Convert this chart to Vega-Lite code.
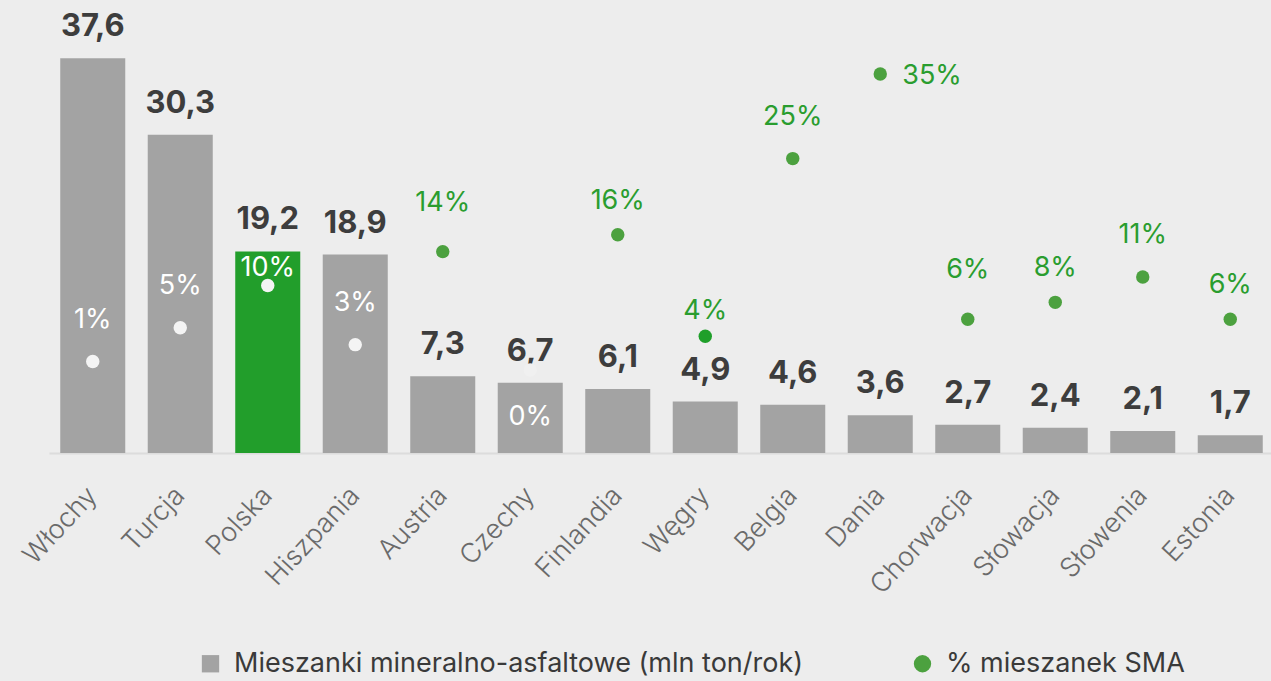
{
  "$schema": "https://vega.github.io/schema/vega-lite/v6.json",
  "width": 1225,
  "height": 453,
  "autosize": {"type": "none"},
  "padding": {"left": 49, "top": 0, "right": 0, "bottom": 228},
  "background": "#ededed",
  "config": {
    "view": {"stroke": null},
    "font": "Inter",
    "locale": {"number": {"decimal": ",", "thousands": " ", "grouping": [3], "currency": ["", " zł"]}}
  },
  "data": {
    "values": [
      {"kraj": "Włochy", "wartosc": 37.6, "pct": 0.01},
      {"kraj": "Turcja", "wartosc": 30.3, "pct": 0.05},
      {"kraj": "Polska", "wartosc": 19.2, "pct": 0.10},
      {"kraj": "Hiszpania", "wartosc": 18.9, "pct": 0.03},
      {"kraj": "Austria", "wartosc": 7.3, "pct": 0.14},
      {"kraj": "Czechy", "wartosc": 6.7, "pct": 0.0},
      {"kraj": "Finlandia", "wartosc": 6.1, "pct": 0.16},
      {"kraj": "Węgry", "wartosc": 4.9, "pct": 0.04},
      {"kraj": "Belgia", "wartosc": 4.6, "pct": 0.25},
      {"kraj": "Dania", "wartosc": 3.6, "pct": 0.35},
      {"kraj": "Chorwacja", "wartosc": 2.7, "pct": 0.06},
      {"kraj": "Słowacja", "wartosc": 2.4, "pct": 0.08},
      {"kraj": "Słowenia", "wartosc": 2.1, "pct": 0.11},
      {"kraj": "Estonia", "wartosc": 1.7, "pct": 0.06}
    ]
  },
  "layer": [
    {
      "encoding": {
        "x": {
          "field": "kraj", "type": "nominal", "sort": null,
          "scale": {"paddingInner": 0.257, "paddingOuter": 0.1285},
          "axis": {
            "title": null, "ticks": false, "labelAngle": -47,
            "labelFont": "Inter", "labelFontWeight": 300, "labelFontSize": 27,
            "labelColor": "#6a6a6a", "labelPadding": 38,
            "domainColor": "#dcdcdc", "domainWidth": 2
          }
        },
        "y": {"field": "wartosc", "type": "quantitative", "scale": {"domain": [0, 43.14], "nice": false, "zero": true}, "axis": null}
      },
      "layer": [
        {
          "mark": {"type": "bar"},
          "encoding": {
            "color": {"condition": {"test": "datum.kraj === 'Polska'", "value": "#229e2b"}, "value": "#a3a3a3"}
          }
        },
        {
          "mark": {"type": "text", "baseline": "alphabetic", "dy": -22, "font": "Inter", "fontWeight": 700, "fontSize": 31, "color": "#3d3d3d"},
          "encoding": {"text": {"field": "wartosc", "type": "quantitative", "format": ".1f"}}
        }
      ]
    },
    {
      "encoding": {
        "x": {"field": "kraj", "type": "nominal", "sort": null},
        "y": {"field": "pct", "type": "quantitative", "scale": {"domain": [-0.0981, 0.4375], "nice": false, "zero": false}, "axis": null}
      },
      "layer": [
        {
          "mark": {"type": "circle", "size": 180, "opacity": 1},
          "encoding": {
            "color": {
              "condition": [
                {"test": "indexof(['Włochy','Turcja','Polska','Hiszpania'], datum.kraj) >= 0", "value": "#f4f4f4"},
                {"test": "datum.kraj === 'Czechy'", "value": "#f0f0f0"},
                {"test": "datum.kraj === 'Węgry'", "value": "#1f9f2a"}
              ],
              "value": "#4ca13f"
            }
          }
        },
        {
          "transform": [{"filter": "indexof(['Włochy','Turcja','Hiszpania'], datum.kraj) >= 0"}],
          "mark": {"type": "text", "baseline": "alphabetic", "dy": -34, "font": "Inter", "fontWeight": 400, "fontSize": 27, "color": "#ffffff"},
          "encoding": {"text": {"field": "pct", "type": "quantitative", "format": ".0%"}}
        },
        {
          "transform": [{"filter": "datum.kraj === 'Polska'"}],
          "mark": {"type": "text", "baseline": "alphabetic", "dy": -9, "font": "Inter", "fontWeight": 400, "fontSize": 27, "color": "#ffffff"},
          "encoding": {"text": {"field": "pct", "type": "quantitative", "format": ".0%"}}
        },
        {
          "transform": [{"filter": "datum.kraj === 'Czechy'"}],
          "mark": {"type": "text", "baseline": "alphabetic", "dy": 55, "font": "Inter", "fontWeight": 400, "fontSize": 27, "color": "#ffffff"},
          "encoding": {"text": {"field": "pct", "type": "quantitative", "format": ".0%"}}
        },
        {
          "transform": [{"filter": "datum.kraj === 'Dania'"}],
          "mark": {"type": "text", "align": "left", "baseline": "middle", "dx": 22, "dy": 2, "font": "Inter", "fontWeight": 400, "fontSize": 27, "color": "#2a9d2f"},
          "encoding": {"text": {"field": "pct", "type": "quantitative", "format": ".0%"}}
        },
        {
          "transform": [{"filter": "datum.kraj === 'Węgry'"}],
          "mark": {"type": "text", "baseline": "alphabetic", "dy": -17, "font": "Inter", "fontWeight": 400, "fontSize": 27, "color": "#2a9d2f"},
          "encoding": {"text": {"field": "pct", "type": "quantitative", "format": ".0%"}}
        },
        {
          "transform": [{"filter": "indexof(['Finlandia','Słowacja','Estonia'], datum.kraj) >= 0"}],
          "mark": {"type": "text", "baseline": "alphabetic", "dy": -26, "font": "Inter", "fontWeight": 400, "fontSize": 27, "color": "#2a9d2f"},
          "encoding": {"text": {"field": "pct", "type": "quantitative", "format": ".0%"}}
        },
        {
          "transform": [{"filter": "indexof(['Belgia','Słowenia'], datum.kraj) >= 0"}],
          "mark": {"type": "text", "baseline": "alphabetic", "dy": -34, "font": "Inter", "fontWeight": 400, "fontSize": 27, "color": "#2a9d2f"},
          "encoding": {"text": {"field": "pct", "type": "quantitative", "format": ".0%"}}
        },
        {
          "transform": [{"filter": "indexof(['Austria','Chorwacja'], datum.kraj) >= 0"}],
          "mark": {"type": "text", "baseline": "alphabetic", "dy": -41, "font": "Inter", "fontWeight": 400, "fontSize": 27, "color": "#2a9d2f"},
          "encoding": {"text": {"field": "pct", "type": "quantitative", "format": ".0%"}}
        }
      ]
    },
    {
      "data": {"values": [{"seria": "Mieszanki mineralno-asfaltowe (mln ton/rok)"}, {"seria": "% mieszanek SMA"}]},
      "mark": {"type": "point", "filled": true, "opacity": 0},
      "encoding": {
        "color": {
          "field": "seria", "type": "nominal",
          "scale": {"domain": ["Mieszanki mineralno-asfaltowe (mln ton/rok)", "% mieszanek SMA"], "range": ["#a3a3a3", "#4ca13f"]},
          "legend": {
            "title": null, "orient": "none", "direction": "horizontal",
            "legendX": 148, "legendY": 650,
            "labelFont": "Inter", "labelFontSize": 27, "labelColor": "#3a3a3a", "labelLimit": 800,
            "symbolSize": 300, "symbolOpacity": 1, "symbolStrokeWidth": 0,
            "columnPadding": 105, "labelOffset": 10
          }
        },
        "shape": {
          "field": "seria", "type": "nominal",
          "scale": {"domain": ["Mieszanki mineralno-asfaltowe (mln ton/rok)", "% mieszanek SMA"], "range": ["square", "circle"]},
          "legend": {
            "title": null, "orient": "none", "direction": "horizontal",
            "legendX": 148, "legendY": 650,
            "labelFont": "Inter", "labelFontSize": 27, "labelColor": "#3a3a3a", "labelLimit": 800,
            "symbolSize": 300, "symbolOpacity": 1, "symbolStrokeWidth": 0,
            "columnPadding": 105, "labelOffset": 10
          }
        }
      }
    }
  ],
  "resolve": {"scale": {"y": "independent"}}
}
